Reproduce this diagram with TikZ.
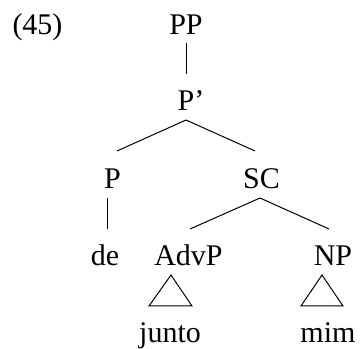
\documentclass[tikz,border=0pt]{standalone}
\usepackage{fontspec}
\setmainfont{Liberation Serif}
\begin{document}
\begin{tikzpicture}[x=1bp,y=1bp,
  lbl/.style={anchor=base,inner sep=0pt,font=\fontsize{30bp}{36bp}\selectfont},
  edge/.style={line width=1bp}]
\useasboundingbox (0,0) rectangle (360,349);
\node[lbl] (ex) at (37.5,315) {(45)};
\node[lbl] (pp) at (186,315) {PP};
\node[lbl] (pbar) at (191,239) {P’};
\node[lbl] (p) at (112.5,161) {P};
\node[lbl] (sc) at (261.5,161) {SC};
\node[lbl] (de) at (105,84) {de};
\node[lbl] (advp) at (188.5,84) {AdvP};
\node[lbl] (np) at (333,84) {NP};
\node[lbl] (junto) at (170,7) {junto};
\node[lbl] (mim) at (328,7) {mim};
\draw[edge] ([shift={(0,-9)}]pp.base) -- ([shift={(-5,36)}]pbar.base);
\draw[edge] ([shift={(-5,-10)}]pbar.base) -- ([shift={(4.5,37)}]p.base);
\draw[edge] ([shift={(-5,-10)}]pbar.base) -- ([shift={(-6.5,37)}]sc.base);
\draw[edge] ([shift={(-5.5,-10)}]p.base) -- ([shift={(2,36)}]de.base);
\draw[edge] ([shift={(-1.5,-10)}]sc.base) -- ([shift={(1.5,36)}]advp.base);
\draw[edge] ([shift={(-1.5,-10)}]sc.base) -- ([shift={(-4,36)}]np.base);
\draw[edge] ([shift={(1,67)}]junto.base) -- ([shift={(-21,36)}]junto.base) -- ([shift={(22,36)}]junto.base) -- cycle;
\draw[edge] ([shift={(-6,67)}]mim.base) -- ([shift={(-27,36)}]mim.base) -- ([shift={(15,36)}]mim.base) -- cycle;
\end{tikzpicture}
\end{document}
